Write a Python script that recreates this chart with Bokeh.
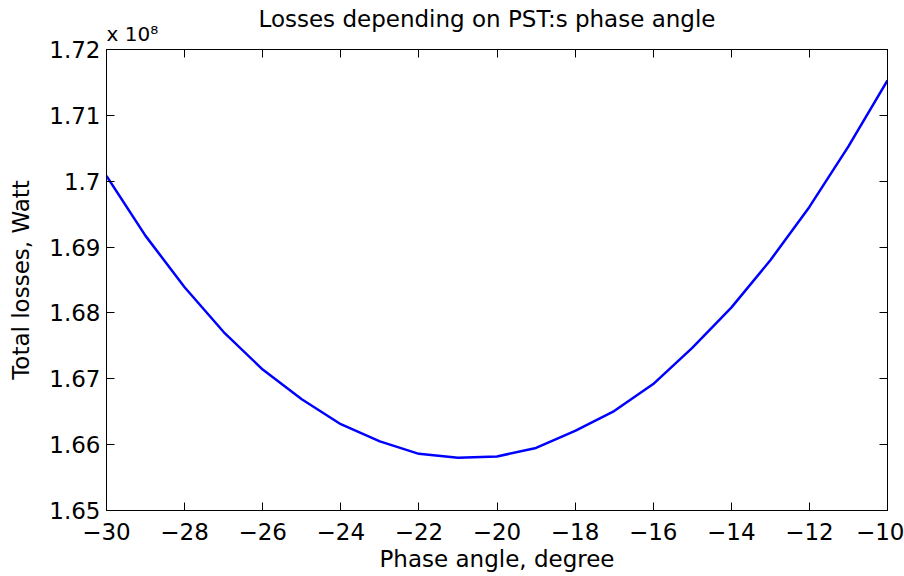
from bokeh.plotting import figure
from bokeh.models import Range1d, LinearAxis, FixedTicker, CustomJSTickFormatter, Title
from bokeh.embed import file_html
from bokeh.resources import INLINE

phase_angle = [-30, -29, -28, -27, -26, -25, -24, -23, -22, -21, -20,
               -19, -18, -17, -16, -15, -14, -13, -12, -11, -10]
# total losses in units of 1e8 W
total_losses = [1.7008, 1.6917, 1.6839, 1.6771, 1.6714, 1.6669, 1.6631, 1.6605,
                1.6586, 1.6580, 1.6582, 1.6595, 1.6621, 1.6651, 1.6692, 1.6747,
                1.6808, 1.6880, 1.6961, 1.7053, 1.7153]
x_ticks = [-30, -28, -26, -24, -22, -20, -18, -16, -14, -12, -10]
y_ticks = [1.65, 1.66, 1.67, 1.68, 1.69, 1.70, 1.71, 1.72]

FONT = "DejaVu Sans"
FS = "23px"

p = figure(width=904, height=576, output_backend="svg", toolbar_location=None,
           title=None,
           x_range=Range1d(-30, -10), y_range=Range1d(1.65, 1.72),
           min_border_left=106, min_border_right=17, min_border_top=49,
           min_border_bottom=66, background_fill_color="white",
           border_fill_color="white")

p.grid.visible = False
p.outline_line_color = "black"
p.outline_line_width = 1

p.line(phase_angle, total_losses, line_color="#0000FF", line_width=2.5)

fmt = CustomJSTickFormatter(code="return String(Number(tick.toFixed(2)));")
blank = CustomJSTickFormatter(code="return '';")

def style(ax):
    ax.axis_line_color = "black"
    ax.major_tick_in = 8
    ax.major_tick_out = 0
    ax.minor_tick_in = 0
    ax.minor_tick_out = 0
    ax.major_tick_line_color = "black"
    ax.major_label_text_font = FONT
    ax.major_label_text_font_size = FS
    ax.major_label_text_color = "black"
    ax.axis_label_text_font = FONT
    ax.axis_label_text_font_size = FS
    ax.axis_label_text_font_style = "normal"
    ax.axis_label_text_color = "black"

xa = p.xaxis[0]
xa.ticker = FixedTicker(ticks=x_ticks)
xa.axis_label = "Phase angle, degree"
style(xa)
xa.major_label_standoff = 12
xa.axis_label_standoff = 3

ya = p.yaxis[0]
ya.ticker = FixedTicker(ticks=y_ticks)
ya.formatter = fmt
ya.axis_label = "Total losses, Watt"
style(ya)
ya.major_label_standoff = 6
ya.axis_label_standoff = 12

top = LinearAxis(ticker=FixedTicker(ticks=x_ticks), formatter=blank)
style(top)
top.major_label_standoff = 0
p.add_layout(top, "above")
right = LinearAxis(ticker=FixedTicker(ticks=y_ticks), formatter=blank)
style(right)
right.major_label_standoff = 0
p.add_layout(right, "right")

sub = Title(text="x 10\u2078", align="left", text_font=FONT, text_font_size="20px",
            text_font_style="normal", text_color="black", standoff=7)
p.add_layout(sub, "above")
main = Title(text="Losses depending on PST:s phase angle", align="left",
             text_font=FONT, text_font_size="23px", text_font_style="normal",
             text_color="black", standoff=-30, offset=152)
p.add_layout(main, "above")

open("out.html", "w").write(file_html(p, INLINE))
